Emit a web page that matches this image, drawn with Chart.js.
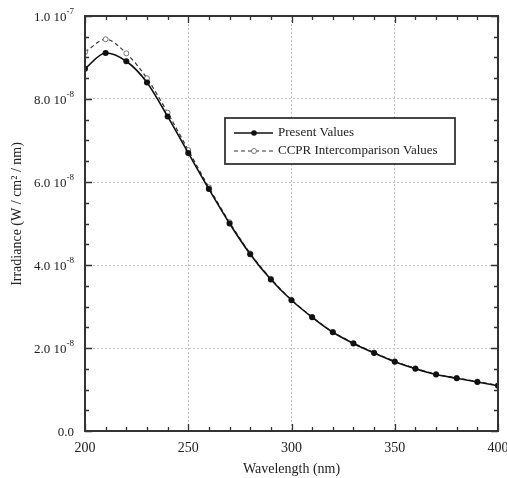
<!DOCTYPE html>
<html>
<head>
<meta charset="utf-8">
<script src="https://cdn.jsdelivr.net/npm/chart.js@4.4.1/dist/chart.umd.min.js"></script>
<style>
  body { margin: 0; background: #fff; }
  canvas { display: block; }
</style>
</head>
<body>
<canvas id="myChart" width="507" height="478"></canvas>
<script>
// wavelengths in nm
var wavelength = [200, 210, 220, 230, 240, 250, 260, 270, 280, 290, 300,
                  310, 320, 330, 340, 350, 360, 370, 380, 390, 400];
// irradiance, units of 1e-8 W / cm2 / nm
var presentValues = [8.73, 9.11, 8.91, 8.40, 7.58, 6.70, 5.83, 5.00, 4.26, 3.65, 3.15,
                     2.74, 2.38, 2.11, 1.88, 1.67, 1.50, 1.36, 1.27, 1.18, 1.09];
var ccprValues = [9.13, 9.44, 9.10, 8.50, 7.67, 6.77, 5.87, 5.03, 4.28, 3.67, 3.16,
                  2.75, 2.39, 2.12, 1.89, 1.68, 1.51, 1.37, 1.28, 1.19, 1.10];
var xTicks = [200, 250, 300, 350, 400];
var yTickMantissa = ['0.0', '2.0', '4.0', '6.0', '8.0', '1.0'];
var yTickExp = ['', '-8', '-8', '-8', '-8', '-7'];
var legendLabels = ['Present Values', 'CCPR Intercomparison Values'];

var serif = '"Liberation Serif", "DejaVu Serif", serif';

function toPoints(vals) {
  var pts = [];
  for (var i = 0; i < wavelength.length; i++) {
    pts.push({ x: wavelength[i], y: vals[i] * 1e-8 });
  }
  return pts;
}

var decorations = {
  id: 'decorations',
  afterDraw: function (chart) {
    var ctx = chart.ctx;
    var a = chart.chartArea;
    var xs = chart.scales.x, ys = chart.scales.y;
    ctx.save();

    // inward ticks on all sides
    ctx.strokeStyle = '#333';
    ctx.lineWidth = 1.3;
    ctx.beginPath();
    for (var v = 200; v <= 400; v += 10) {
      var px = Math.round(xs.getPixelForValue(v)) + 0.5;
      var len = v % 50 === 0 ? 7 : 4;
      ctx.moveTo(px, a.bottom); ctx.lineTo(px, a.bottom - len);
      ctx.moveTo(px, a.top); ctx.lineTo(px, a.top + len);
    }
    for (var i = 0; i <= 20; i++) {
      var py = Math.round(ys.getPixelForValue(i * 5e-9)) + 0.5;
      var l2 = i % 4 === 0 ? 7 : 4;
      ctx.moveTo(a.left, py); ctx.lineTo(a.left + l2, py);
      ctx.moveTo(a.right, py); ctx.lineTo(a.right - l2, py);
    }
    ctx.stroke();

    // frame
    ctx.lineWidth = 2;
    ctx.strokeRect(a.left, a.top, a.right - a.left, a.bottom - a.top);

    // x tick labels
    ctx.fillStyle = '#222';
    ctx.font = '14px ' + serif;
    ctx.textAlign = 'center';
    ctx.textBaseline = 'alphabetic';
    xTicks.forEach(function (t) {
      ctx.fillText(String(t), xs.getPixelForValue(t), a.bottom + 21);
    });

    // y tick labels with superscript exponent
    for (var k = 0; k < yTickMantissa.length; k++) {
      var val = k === 5 ? 1e-7 : k * 2e-8;
      var y = ys.getPixelForValue(val) + 5;
      var right = 74;
      ctx.font = '9px ' + serif;
      var ew = yTickExp[k] ? ctx.measureText(yTickExp[k]).width : 0;
      ctx.textAlign = 'left';
      if (yTickExp[k]) {
        ctx.fillText(yTickExp[k], right - ew, y - 7);
      }
      ctx.font = '13px ' + serif;
      var main = yTickMantissa[k] + (yTickExp[k] ? ' 10' : '');
      ctx.textAlign = 'right';
      ctx.fillText(main, right - ew, y);
    }

    // axis titles
    ctx.font = '14px ' + serif;
    ctx.textAlign = 'center';
    ctx.fillText('Wavelength (nm)', (a.left + a.right) / 2, a.bottom + 42);
    ctx.save();
    ctx.translate(21, 214);
    ctx.rotate(-Math.PI / 2);
    ctx.fillText('Irradiance (W / cm\u00B2 / nm)', 0, 0);
    ctx.restore();

    // legend box
    var bx = 225, by = 118, bw = 230, bh = 46;
    ctx.fillStyle = '#fff';
    ctx.fillRect(bx, by, bw, bh);
    ctx.lineWidth = 1.8;
    ctx.strokeStyle = '#333';
    ctx.strokeRect(bx, by, bw, bh);

    var rows = [by + 15, by + 33];
    // solid sample
    ctx.lineWidth = 1.4;
    ctx.strokeStyle = '#111';
    ctx.beginPath(); ctx.moveTo(234, rows[0]); ctx.lineTo(273, rows[0]); ctx.stroke();
    ctx.fillStyle = '#111';
    ctx.beginPath(); ctx.arc(254, rows[0], 2.8, 0, Math.PI * 2); ctx.fill();
    // dashed sample
    ctx.lineWidth = 1.2;
    ctx.strokeStyle = '#333';
    ctx.setLineDash([4, 3]);
    ctx.beginPath(); ctx.moveTo(234, rows[1]); ctx.lineTo(273, rows[1]); ctx.stroke();
    ctx.setLineDash([]);
    ctx.fillStyle = '#fff';
    ctx.strokeStyle = '#777';
    ctx.lineWidth = 1;
    ctx.beginPath(); ctx.arc(254, rows[1], 2.5, 0, Math.PI * 2); ctx.fill(); ctx.stroke();

    ctx.fillStyle = '#222';
    ctx.font = '13px ' + serif;
    ctx.textAlign = 'left';
    ctx.textBaseline = 'middle';
    ctx.fillText(legendLabels[0], 278, rows[0]);
    ctx.fillText(legendLabels[1], 278, rows[1]);
    ctx.restore();
  }
};

var gridColor = function (c) {
  var v = c.tick ? c.tick.value : null;
  var s = c.scale;
  if (v === null || Math.abs(v - s.min) < 1e-12 || Math.abs(v - s.max) < 1e-12) return 'rgba(0,0,0,0)';
  return '#c4c4c4';
};

const data = {
  datasets: [{
    label: legendLabels[0],
    data: toPoints(presentValues),
    borderColor: '#111',
    backgroundColor: '#111',
    borderWidth: 1.6,
    pointRadius: 3,
    pointBorderWidth: 0,
    cubicInterpolationMode: 'monotone'
  }, {
    label: legendLabels[1],
    data: toPoints(ccprValues),
    borderColor: '#333',
    borderWidth: 1.2,
    borderDash: [4, 3],
    pointRadius: 2.5,
    pointBackgroundColor: '#fff',
    pointBorderColor: '#777',
    pointBorderWidth: 1,
    cubicInterpolationMode: 'monotone'
  }]
};

const config = {
  type: 'line',
  data: data,
  options: {
    responsive: false,
    animation: false,
    layout: { padding: { left: 85, right: 9, top: 16, bottom: 47 } },
    plugins: { legend: { display: false }, tooltip: { enabled: false } },
    scales: {
      x: {
        type: 'linear', min: 200, max: 400,
        ticks: { display: false, stepSize: 50 },
        grid: { color: gridColor, drawTicks: false, lineWidth: 1 },
        border: { display: false, dash: [2, 2] }
      },
      y: {
        min: 0, max: 1e-7,
        ticks: { display: false, stepSize: 2e-8 },
        grid: { color: gridColor, drawTicks: false, lineWidth: 1 },
        border: { display: false, dash: [2, 2] }
      }
    }
  },
  plugins: [decorations]
};

const myChart = new Chart(document.getElementById('myChart'), config);
</script>
</body>
</html>
